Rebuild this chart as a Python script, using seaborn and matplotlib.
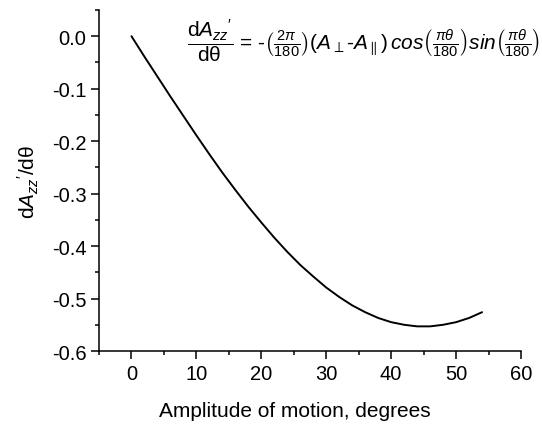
import matplotlib
matplotlib.use("Agg")
import matplotlib.pyplot as plt
import seaborn as sns
import pandas as pd
from matplotlib.ticker import MultipleLocator

# values
theta = [0, 2, 4, 6, 8, 10, 12, 14, 16, 18, 20, 22, 24, 26, 28,
         30, 32, 34, 36, 38, 40, 42, 44, 46, 48, 50, 52, 54]
dazz = [0.0, -0.039, -0.077, -0.115, -0.152, -0.189, -0.225, -0.260, -0.293, -0.325,
        -0.355, -0.384, -0.411, -0.436, -0.458, -0.479, -0.497, -0.513, -0.526,
        -0.537, -0.545, -0.550, -0.553, -0.553, -0.550, -0.545, -0.537, -0.526]

x_ticks = [0, 10, 20, 30, 40, 50, 60]
y_ticks = [0.0, -0.1, -0.2, -0.3, -0.4, -0.5, -0.6]

df = pd.DataFrame({"theta": theta, "dazz": dazz})

sns.set_style("ticks")
plt.rcParams["font.family"] = ["Liberation Sans", "DejaVu Sans"]
plt.rcParams["mathtext.fontset"] = "custom"
plt.rcParams["mathtext.rm"] = "Liberation Sans"
plt.rcParams["mathtext.it"] = "Liberation Sans:italic"
plt.rcParams["mathtext.bf"] = "Liberation Sans:bold"
plt.rcParams["text.color"] = "black"
plt.rcParams["axes.labelcolor"] = "black"

fig = plt.figure(figsize=(5.42, 4.27), dpi=100)
ax = fig.add_axes([0.1827, 0.1756, 0.7786, 0.7986])

sns.lineplot(data=df, x="theta", y="dazz", color="black", linewidth=1.4, ax=ax)

ax.set_xlim(-5, 60)
ax.set_ylim(-0.6, 0.05)
ax.set_xticks(x_ticks)
ax.set_yticks(y_ticks)
ax.set_yticklabels([f"{v:.1f}" for v in y_ticks])
ax.xaxis.set_minor_locator(MultipleLocator(5))
ax.yaxis.set_minor_locator(MultipleLocator(0.05))
ax.tick_params(which="major", direction="out", length=5.5, width=1.1, labelsize=14.5,
               colors="black", pad=3.5)
ax.tick_params(which="minor", direction="out", length=3, width=1.1, colors="black")
for s in ["top", "right"]:
    ax.spines[s].set_visible(False)
for s in ["left", "bottom"]:
    ax.spines[s].set_linewidth(1.1)
    ax.spines[s].set_color("black")

ax.set_xlabel("Amplitude of motion, degrees", fontsize=15)
ax.xaxis.set_label_coords(0.464, -0.148)
ax.set_ylabel(r"d$A_{zz}{}^{\prime}$/dθ", fontsize=15, labelpad=8)

eq = (r"$\dfrac{\mathrm{d}A_{zz}{}^{\prime}}{\mathrm{d}\mathrm{\theta}}$ = -"
      r"$\left(\frac{2\pi}{180}\right)(A_{\perp}$-$A_{\parallel})\,cos\left(\frac{\pi\theta}{180}\right)sin\left(\frac{\pi\theta}{180}\right)$")
ax.text(0.997, 0.905, eq, transform=fig.transFigure, ha="right", va="center", fontsize=15)

fig.savefig("out.png", dpi=100)
